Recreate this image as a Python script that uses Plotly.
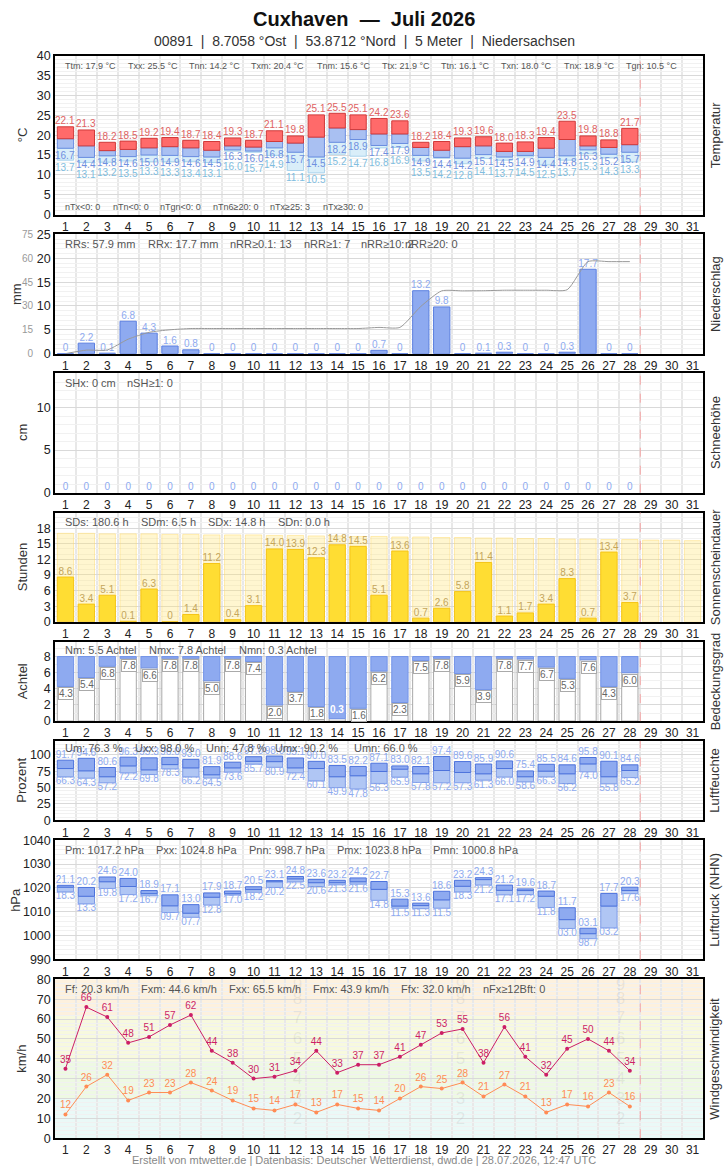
import plotly.graph_objects as go

W, H = 728, 1175
days = list(range(1, 32))
d = list(range(1, 29))

# Temperature (°C)
tx = [22.1, 21.3, 18.2, 18.5, 19.2, 19.4, 18.7, 18.4, 19.3, 18.7, 21.1, 19.8, 25.1, 25.5, 25.1,
      24.2, 23.6, 18.2, 18.4, 19.3, 19.6, 18.0, 18.3, 19.4, 23.5, 19.8, 18.8, 21.7]
tm = [19.1, 17.3, 16.1, 16.4, 16.8, 17.1, 16.8, 16.2, 17.3, 17.0, 18.4, 18.0, 19.5, 21.8, 21.4,
      20.3, 20.3, 16.9, 16.2, 17.1, 17.3, 15.9, 15.9, 16.7, 18.9, 17.3, 16.9, 17.6]
tn = [16.7, 14.4, 14.8, 14.6, 15.0, 14.9, 14.6, 14.5, 16.3, 16.0, 16.8, 15.7, 14.5, 18.2, 18.9,
      17.4, 17.9, 14.9, 14.4, 14.2, 15.1, 14.5, 14.9, 14.4, 14.8, 16.3, 15.2, 15.7]
tgn = [13.7, 13.1, 13.2, 13.5, 13.3, 13.3, 13.4, 13.1, 16.0, 15.7, 14.9, 11.1, 10.5, 15.2, 14.7,
       16.8, 16.9, 13.5, 14.2, 12.8, 14.1, 13.7, 14.5, 12.5, 13.7, 15.3, 14.3, 13.3]

# Precipitation (mm) and cumulative sum (mm)
rr = [0, 2.2, 0.1, 6.8, 4.3, 1.6, 0.8, 0, 0, 0, 0, 0, 0, 0, 0,
      0.7, 0, 13.2, 9.8, 0, 0.1, 0.3, 0, 0, 0.3, 17.7, 0, 0]
rr_cum = [0, 2.2, 2.3, 9.1, 13.4, 15.0, 15.8, 15.8, 15.8, 15.8, 15.8, 15.8, 15.8, 15.8, 15.8,
          16.5, 16.5, 29.7, 39.5, 39.5, 39.6, 39.9, 39.9, 39.9, 40.2, 57.9, 57.9, 57.9]

# Snow depth (cm)
snow = [0] * 28

# Sunshine (h) and possible sunshine (h)
sd = [8.6, 3.4, 5.1, 0.1, 6.3, 0, 1.4, 11.2, 0.4, 3.1, 14.0, 13.9, 12.3, 14.8, 14.5,
      5.1, 13.6, 0.7, 2.6, 5.8, 11.4, 1.1, 1.7, 3.4, 8.3, 0.7, 13.4, 3.7]
sd_max = [17.0, 17.0, 16.9, 16.9, 16.9, 16.8, 16.8, 16.7, 16.7, 16.7, 16.6, 16.6, 16.5, 16.5, 16.4, 16.4,
          16.3, 16.3, 16.2, 16.2, 16.1, 16.1, 16.0, 16.0, 15.9, 15.9, 15.8, 15.8, 15.7, 15.7, 15.6]

# Cloud cover (octas)
nn = [4.3, 5.4, 6.8, 7.8, 6.6, 7.8, 7.8, 5.0, 7.8, 7.4, 2.0, 3.7, 1.8, 0.3, 1.6,
      6.2, 2.3, 7.5, 7.8, 5.9, 3.9, 7.8, 7.7, 6.7, 5.3, 7.6, 4.3, 6.0]

# Relative humidity (%)
ux = [91.7, 94.6, 80.6, 96.3, 95.3, 96.0, 93.0, 81.9, 88.6, 97.0, 98.0, 95.1, 90.0, 83.5, 82.2,
      87.1, 83.0, 82.1, 97.4, 89.6, 85.9, 90.6, 75.4, 85.5, 84.6, 95.8, 90.1, 84.6]
um = [79.0, 75.5, 66.5, 83.0, 77.0, 85.0, 80.0, 69.5, 80.0, 90.0, 89.5, 80.0, 79.0, 66.5, 68.0,
      74.5, 78.0, 71.0, 76.0, 73.0, 71.0, 79.0, 66.5, 75.0, 71.0, 86.0, 66.5, 76.0]
un = [66.3, 64.3, 57.2, 72.2, 69.8, 78.3, 66.2, 64.5, 73.6, 85.7, 80.9, 72.4, 60.1, 49.9, 47.8,
      56.3, 65.9, 57.8, 57.2, 57.3, 61.3, 66.0, 58.6, 66.3, 56.2, 74.0, 55.8, 65.2]

# Air pressure (hPa)
px = [1021.1, 1020.2, 1024.6, 1024.0, 1018.9, 1017.1, 1013.0, 1017.9, 1018.7, 1020.5, 1023.1, 1024.8, 1023.6, 1023.2, 1024.2,
      1022.7, 1015.3, 1013.6, 1018.6, 1023.2, 1024.3, 1021.2, 1019.6, 1018.7, 1011.7, 1003.1, 1017.7, 1020.3]
pm = [1020.3, 1016.5, 1022.6, 1020.6, 1017.6, 1012.5, 1009.4, 1016.1, 1017.6, 1019.3, 1022.6, 1023.8, 1022.2, 1022.2, 1022.6,
      1019.4, 1012.4, 1012.6, 1015.0, 1020.7, 1023.5, 1019.0, 1018.9, 1016.5, 1006.7, 1000.8, 1012.4, 1018.9]
pn = [1018.3, 1013.3, 1019.8, 1017.2, 1016.7, 1009.7, 1007.7, 1012.8, 1017.0, 1018.2, 1020.2, 1022.5, 1020.6, 1021.3, 1021.6,
      1014.8, 1011.5, 1011.3, 1011.5, 1018.3, 1021.2, 1017.1, 1017.2, 1011.8, 1003.0, 998.7, 1003.2, 1017.6]

# Wind (km/h): max gust and mean
fx = [35, 66, 61, 48, 51, 57, 62, 44, 38, 30, 31, 34, 44, 33, 37,
      37, 41, 47, 53, 55, 38, 56, 41, 32, 45, 50, 44, 34]
ff = [12, 26, 32, 19, 23, 23, 28, 24, 19, 15, 14, 17, 13, 17, 15,
      14, 20, 26, 25, 28, 21, 27, 21, 13, 17, 16, 23, 16]

# Beaufort background bands (km/h) and watermark digits
bft_lo = [0, 20, 39, 62]
bft_hi = [20, 39, 62, 80]
bft_col = ["#eaf9f7", "#eef9e3", "#f7f9de", "#fdf1de"]
bft_num = [2, 3, 4, 5, 6, 7, 8, 9]
bft_lab_y = [9.5, 19.5, 29.5, 39.5, 49.5, 60, 69.5, 77]
bft_cols_days = [12.1, 19.9, 27.55]

panel_titles = ["Temperatur", "Niederschlag", "Schneehöhe", "Sonnenscheindauer",
                "Bedeckungsgrad", "Luftfeuchte", "Luftdruck (NHN)", "Windgeschwindigkeit"]
ytitles = ["°C", "mm", "cm", "Stunden", "Achtel", "Prozent", "hPa", "km/h"]

# panel frames (top, bottom) in target-picture pixels
panels = [(55, 215), (235, 355), (375, 495), (515, 625), (645, 725), (745, 825), (845, 965), (985, 1145)]
L, R = 55, 703
FONT = "Liberation Sans, Arial, sans-serif"

# vertical correction for the captured page (small offset at the top)
VK, VO = 1.00511, -6.0

def vy(p):
    return p * VK + VO

def px2x(p):
    return p / W

def px2y(p):
    return 1 - vy(p) / H

def ax(i):
    return ("x" if i == 1 else f"x{i}"), ("y" if i == 1 else f"y{i}")

fig = go.Figure()
BAR_W = 0.78
annotations = []
shapes = []

# ---- Temperature
xa, ya = ax(1)
fig.add_bar(x=d, y=[a - b for a, b in zip(tn, tgn)], base=tgn, width=BAR_W, xaxis=xa, yaxis=ya,
            marker=dict(color="#d9eef9", line=dict(color="#a9d3ec", width=1)))
fig.add_bar(x=d, y=[a - b for a, b in zip(tm, tn)], base=tn, width=BAR_W, xaxis=xa, yaxis=ya,
            marker=dict(color="#a9c0f2", line=dict(color="#6a8de0", width=1)))
fig.add_bar(x=d, y=[a - b for a, b in zip(tx, tm)], base=tm, width=BAR_W, xaxis=xa, yaxis=ya,
            marker=dict(color="#ff6a6a", line=dict(color="#d03a3a", width=1)))
PXDEG = 4.0 * VK  # pixels per °C in this panel (label stacking only)
for day, a, b, c in zip(d, tx, tn, tgn):
    annotations.append(dict(xref=xa, yref=ya, x=day, y=a, text=f"{a:.1f}", showarrow=False,
                            yanchor="middle", yshift=6, font=dict(size=10, color="#e06262")))
    annotations.append(dict(xref=xa, yref=ya, x=day, y=b, text=f"{b:.1f}", showarrow=False,
                            yanchor="middle", yshift=-7, font=dict(size=10, color="#6f8fe0")))
    off = max(7, 7 + 10 - (b - c) * PXDEG)
    annotations.append(dict(xref=xa, yref=ya, x=day, y=c, text=f"{c:.1f}", showarrow=False,
                            yanchor="middle", yshift=-off, font=dict(size=10, color="#80bde0")))

# ---- Precipitation
xa, ya = ax(2)
fig.add_bar(x=d, y=rr, width=BAR_W, xaxis=xa, yaxis=ya,
            marker=dict(color="#8eaaf0", line=dict(color="#5b7fe0", width=1)))
fig.add_scatter(x=d, y=rr, mode="text", text=[("0" if v == 0 else f"{v:.1f}") for v in rr],
                textposition="top center", textfont=dict(size=10, color="#8eaaf0", family=FONT),
                xaxis=xa, yaxis=ya)
fig.add_scatter(x=d, y=rr_cum, mode="lines", line=dict(color="#999999", width=1, shape="spline", smoothing=0.6),
                xaxis=xa, yaxis="y9")

# ---- Snow
xa, ya = ax(3)
fig.add_scatter(x=d, y=snow, mode="text", text=["0" for v in snow], textposition="top center",
                textfont=dict(size=10, color="#8eaaf0", family=FONT), xaxis=xa, yaxis=ya)

# ---- Sunshine
xa, ya = ax(4)
fig.add_bar(x=days, y=sd_max, width=BAR_W, xaxis=xa, yaxis=ya,
            marker=dict(color="rgba(255,228,120,0.35)", line=dict(color="rgba(255,220,110,0.5)", width=1)))
fig.add_bar(x=d, y=sd, width=BAR_W, xaxis=xa, yaxis=ya,
            marker=dict(color="#ffdd33", line=dict(color="#f5c518", width=1)))
fig.add_scatter(x=d, y=sd, mode="text", text=[("0" if v == 0 else f"{v:.1f}") for v in sd],
                textposition="top center", textfont=dict(size=10, color="#c4a55a", family=FONT),
                xaxis=xa, yaxis=ya)

# ---- Cloud cover
xa, ya = ax(5)
fig.add_bar(x=d, y=nn, width=BAR_W, xaxis=xa, yaxis=ya,
            marker=dict(color="#ffffff", line=dict(color="#a8a8a8", width=1)))
fig.add_bar(x=d, y=[8 - v for v in nn], base=nn, width=BAR_W, xaxis=xa, yaxis=ya,
            marker=dict(color="#8eaaf0", line=dict(color="#7394e8", width=1)))

# ---- Humidity
xa, ya = ax(6)
fig.add_bar(x=d, y=[a - b for a, b in zip(um, un)], base=un, width=BAR_W, xaxis=xa, yaxis=ya,
            marker=dict(color="#b0c6f4", line=dict(color="#7c9ae6", width=1)))
fig.add_bar(x=d, y=[a - b for a, b in zip(ux, um)], base=um, width=BAR_W, xaxis=xa, yaxis=ya,
            marker=dict(color="#8eaaf0", line=dict(color="#4d73dc", width=1)))
fig.add_scatter(x=d, y=ux, mode="text", text=[f"{v:.1f}" for v in ux], textposition="top center",
                textfont=dict(size=10, color="#8eaaf0", family=FONT), xaxis=xa, yaxis=ya)
fig.add_scatter(x=d, y=un, mode="text", text=[f"{v:.1f}" for v in un], textposition="bottom center",
                textfont=dict(size=10, color="#8eaaf0", family=FONT), xaxis=xa, yaxis=ya)

# ---- Pressure
xa, ya = ax(7)
fig.add_bar(x=d, y=[a - b for a, b in zip(pm, pn)], base=pn, width=BAR_W, xaxis=xa, yaxis=ya,
            marker=dict(color="#b0c6f4", line=dict(color="#7c9ae6", width=1)))
fig.add_bar(x=d, y=[a - b for a, b in zip(px, pm)], base=pm, width=BAR_W, xaxis=xa, yaxis=ya,
            marker=dict(color="#8eaaf0", line=dict(color="#4d73dc", width=1)))
fig.add_scatter(x=d, y=px, mode="text", text=[f"{v % 100:04.1f}" for v in px], textposition="top center",
                textfont=dict(size=10, color="#8eaaf0", family=FONT), xaxis=xa, yaxis=ya)
fig.add_scatter(x=d, y=pn, mode="text", text=[f"{v % 100:04.1f}" for v in pn], textposition="bottom center",
                textfont=dict(size=10, color="#8eaaf0", family=FONT), xaxis=xa, yaxis=ya)

# ---- Wind
xa, ya = ax(8)
for dd in bft_cols_days:
    fig.add_scatter(x=[dd] * len(bft_num), y=bft_lab_y, mode="text", text=[str(n) for n in bft_num],
                    textposition="middle center", hoverinfo="skip",
                    textfont=dict(size=17, color="rgba(150,150,150,0.16)", family=FONT), xaxis=xa, yaxis=ya)
fig.add_scatter(x=d, y=ff, mode="lines+markers+text", text=[str(v) for v in ff], textposition="top center",
                line=dict(color="#ff8c55", width=1), marker=dict(size=4, color="#ff8c55"),
                textfont=dict(size=10, color="#ff8c55", family=FONT), xaxis=xa, yaxis=ya)
fig.add_scatter(x=d, y=fx, mode="lines+markers+text", text=[str(v) for v in fx], textposition="top center",
                line=dict(color="#cc1f66", width=1), marker=dict(size=4, color="#cc1f66"),
                textfont=dict(size=10, color="#cc1f66", family=FONT), xaxis=xa, yaxis=ya)

# ---- Axes
yranges = [[0, 40], [0, 25], [0, 14], [0, 21], [0, 9.85], [0, 121], [990, 1040], [0, 80]]
ytickv = [list(range(0, 41, 5)), list(range(0, 26, 5)), [0, 5, 10], list(range(0, 19, 3)),
          [0, 2, 4, 6, 8], [0, 25, 50, 75, 100], list(range(990, 1041, 10)), list(range(0, 81, 10))]
yminor = [1, 1, 1, 1, 1, 5, 2, 2]

layout = dict(
    width=W, height=H, margin=dict(l=0, r=0, t=0, b=0),
    paper_bgcolor="white", plot_bgcolor="white", showlegend=False, barmode="overlay",
    font=dict(family=FONT, size=12, color="#222"),
)
for i, (t, b) in enumerate(panels, start=1):
    xk = "xaxis" if i == 1 else f"xaxis{i}"
    yk = "yaxis" if i == 1 else f"yaxis{i}"
    xa, ya = ax(i)
    layout[xk] = dict(domain=[px2x(L), px2x(R)], anchor=ya, range=[0.5, 31.5],
                      tickmode="array", tickvals=days, ticktext=[str(v) for v in days],
                      showgrid=False, zeroline=False, showline=True, linecolor="#000", linewidth=1.5,
                      mirror=True, ticks="", tickfont=dict(size=12, color="#222"),
                      minor=dict(tick0=0.5, dtick=1, showgrid=True, gridcolor="#e8e8e8", gridwidth=2, ticks=""))
    layout[yk] = dict(domain=[px2y(b), px2y(t)], anchor=xa, range=yranges[i - 1],
                      tickmode="array", tickvals=ytickv[i - 1],
                      showgrid=True, gridcolor="#d9d9d9", gridwidth=1, zeroline=False,
                      showline=True, linecolor="#000", linewidth=1.5, mirror=True, ticks="",
                      tickfont=dict(size=12.5, color="#222"),
                      minor=dict(dtick=yminor[i - 1], showgrid=True, gridcolor="#f1f1f1", gridwidth=1, ticks=""))
    shapes.append(dict(type="line", xref=xa, yref=f"{ya} domain", x0=28.5, x1=28.5, y0=0, y1=1,
                       line=dict(color="#f4a6a6", width=1, dash="dash"), layer="above"))
    annotations.append(dict(xref="paper", yref="paper", x=px2x(715), y=px2y((t + b) / 2),
                            text=panel_titles[i - 1], textangle=-90, showarrow=False,
                            font=dict(size=13, color="#333"), xanchor="center", yanchor="middle"))
    tx_pos = 16 if ytitles[i - 1] in ("mm", "hPa") else 22
    annotations.append(dict(xref="paper", yref="paper", x=px2x(tx_pos), y=px2y((t + b) / 2),
                            text=ytitles[i - 1], textangle=-90, showarrow=False,
                            font=dict(size=13, color="#333"), xanchor="center", yanchor="middle"))

layout["yaxis9"] = dict(overlaying="y2", anchor="free", position=px2x(L), shift=-22, side="left",
                        range=[0, 75], tickmode="array", tickvals=[0, 15, 30, 45, 60, 75],
                        showgrid=False, zeroline=False, showline=False, ticks="",
                        tickfont=dict(size=10, color="#999"))

for lo, hi, c in zip(bft_lo, bft_hi, bft_col):
    shapes.append(dict(type="rect", xref="x8 domain", yref="y8", x0=0, x1=1, y0=lo, y1=hi,
                       fillcolor=c, line=dict(width=0), layer="below"))

def stat(items, ypix, size=11):
    for xp, s in items:
        annotations.append(dict(xref="paper", yref="paper", x=px2x(xp), y=px2y(ypix), text=s,
                                showarrow=False, xanchor="left", yanchor="middle",
                                font=dict(size=size, color="#555")))

stat([(63, "Ttm: 17.9 °C"), (126, "Txx: 25.5 °C"), (187, "Tnn: 14.2 °C"), (249, "Txm: 20.4 °C"),
      (315, "Tnm: 15.6 °C"), (380, "Ttx: 21.9 °C"), (439, "Ttn: 16.1 °C"), (499, "Txn: 18.0 °C"),
      (562, "Tnx: 18.9 °C"), (624, "Tgn: 10.5 °C")], 65, size=9)
stat([(63, "nTx<0: 0"), (111, "nTn<0: 0"), (158, "nTgn<0: 0"), (211, "nTn6≥20: 0"),
      (268, "nTx≥25: 3"), (321, "nTx≥30: 0")], 207, size=9)
stat([(63, "RRs: 57.9 mm"), (146, "RRx: 17.7 mm"), (228, "nRR≥0.1: 13"), (302, "nRR≥1: 7"),
      (359, "nRR≥10: 2"), (403, "nRR≥20: 0")], 245)
stat([(63, "SHx: 0 cm"), (125, "nSH≥1: 0")], 385)
stat([(63, "SDs: 180.6 h"), (139, "SDm: 6.5 h"), (206, "SDx: 14.8 h"), (276, "SDn: 0.0 h")], 525)
stat([(63, "Nm: 5.5 Achtel"), (147, "Nmx: 7.8 Achtel"), (237, "Nmn: 0.3 Achtel")], 653)
stat([(63, "Um: 76.3 %"), (133, "Uxx: 98.0 %"), (204, "Unn: 47.8 %"), (273, "Umx: 90.2 %"),
      (352, "Umn: 66.0 %")], 752)
stat([(63, "Pm: 1017.2 hPa"), (154, "Pxx: 1024.8 hPa"), (247, "Pnn: 998.7 hPa"), (335, "Pmx: 1023.8 hPa"),
      (431, "Pmn: 1000.8 hPa")], 855)
stat([(63, "Ff: 20.3 km/h"), (139, "Fxm: 44.6 km/h"), (227, "Fxx: 65.5 km/h"), (311, "Fmx: 43.9 km/h"),
      (399, "Ffx: 32.0 km/h"), (481, "nFx≥12Bft: 0")], 995)

for day, v in zip(d, nn):
    if v < 1:
        annotations.append(dict(xref="x5", yref="y5", x=day, y=v + 0.2, text=f"<b>{v:.1f}</b>", showarrow=False,
                                xanchor="center", yanchor="bottom", font=dict(size=10, color="white")))
    else:
        annotations.append(dict(xref="x5", yref="y5", x=day - 0.36, y=v - 0.1, text=f"{v:.1f}", showarrow=False,
                                xanchor="left", yanchor="top", font=dict(size=10, color="#666"),
                                bgcolor="white", bordercolor="#aaa", borderwidth=1, borderpad=0))

annotations.append(dict(xref="paper", yref="paper", x=0.5, y=px2y(18), text="<b>Cuxhaven  —  Juli 2026</b>",
                        showarrow=False, font=dict(size=20, color="#111"), xanchor="center", yanchor="middle"))
annotations.append(dict(xref="paper", yref="paper", x=0.5, y=px2y(40),
                        text="00891  |  8.7058 °Ost  |  53.8712 °Nord  |  5 Meter  |  Niedersachsen",
                        showarrow=False, font=dict(size=14, color="#333"), xanchor="center", yanchor="middle"))
annotations.append(dict(xref="paper", yref="paper", x=0.5, y=px2y(1167),
                        text="Erstellt von mtwetter.de | Datenbasis: Deutscher Wetterdienst, dwd.de | 28.07.2026, 12:47 UTC",
                        showarrow=False, font=dict(size=11, color="#888"), xanchor="center", yanchor="middle"))

layout["shapes"] = shapes
layout["annotations"] = annotations
fig.update_layout(**layout)
fig.write_html("out.html")
